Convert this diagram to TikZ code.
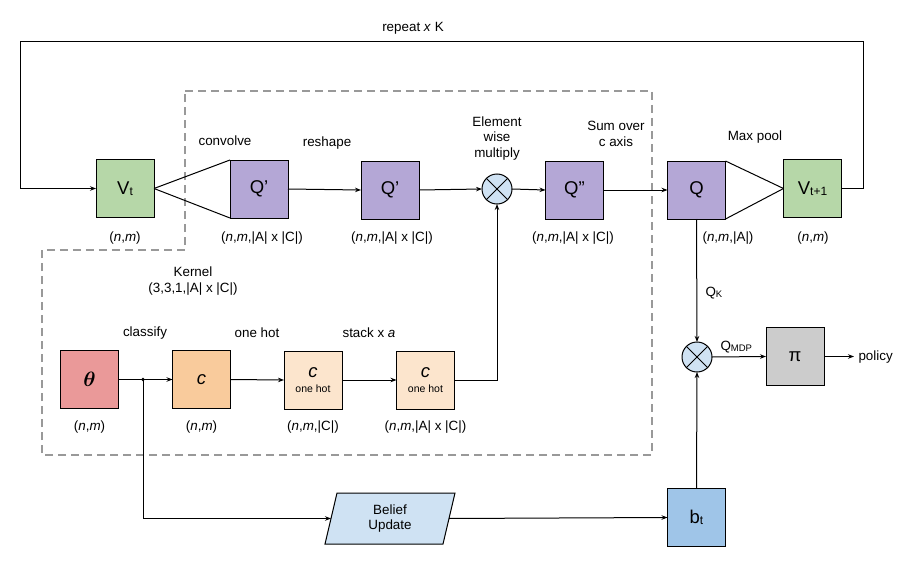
\documentclass[tikz,border=0pt]{standalone}
\usepackage{fontspec}
\setmainfont{Liberation Sans}
\usepackage{bm}
\usetikzlibrary{arrows.meta}
\definecolor{vgreen}{HTML}{B6D7A8}
\definecolor{qpurple}{HTML}{B4A7D6}
\definecolor{tpink}{HTML}{EA9999}
\definecolor{corange}{HTML}{F9CB9C}
\definecolor{lorange}{HTML}{FCE5CD}
\definecolor{lblue}{HTML}{CFE2F3}
\definecolor{bblue}{HTML}{9FC5E8}
\definecolor{pgray}{HTML}{CCCCCC}
\definecolor{dgray}{HTML}{999999}
\newcommand\subx[1]{\raisebox{-1.5pt}{\fontsize{12}{12}\selectfont #1}}
\newcommand\subs[1]{\raisebox{-1pt}{\fontsize{9.5}{9.5}\selectfont #1}}
\begin{document}
\begin{tikzpicture}[x=1pt,y=-1pt,line width=1pt,
  box/.style={draw, minimum width=58pt, minimum height=58pt, inner sep=0pt, outer sep=0pt, font=\fontsize{18.5}{20}\selectfont},
  lbl/.style={font=\fontsize{13.4}{15.6}\selectfont, align=center, inner sep=0pt},
  arr/.style={-{Stealth[length=6pt,width=4.5pt]}},
  mult/.style={draw, circle, minimum size=30pt, inner sep=0pt, outer sep=0pt, fill=lblue}]
\path[use as bounding box] (0,0) rectangle (916,578);

% dashed region
\draw[dgray, line width=1.8pt, dash pattern=on 8pt off 5pt]
  (185,91) -- (652,91) -- (652,455) -- (42,455) -- (42,250) -- (185,250) -- cycle;

% top row
\node[box, fill=vgreen] (vt) at (125,188.5) {V\subx{t}};
\node[box, fill=qpurple] (q1) at (259,189) {Q’};
\node[box, fill=qpurple] (q2) at (390,190) {Q’};
\node[mult] (m1) at (497,189) {};
\node[box, fill=qpurple] (q3) at (574.5,190) {Q”};
\node[box, fill=qpurple] (q) at (696.5,190) {Q};
\node[box, fill=vgreen] (vt1) at (812.5,188.5) {V\subx{t+1}};

% bottom row
\node[box, fill=tpink, font=\fontsize{20}{22}\selectfont] (th) at (89.5,379.5) {$\bm{\theta}$};
\node[box, fill=corange] (c) at (201.5,379.5) {\textit{c}};
\node[box, fill=lorange, align=center] (co1) at (313,380) {\textit{c}\\[-5pt]{\fontsize{10.5}{12}\selectfont one hot}};
\node[box, fill=lorange, align=center] (co2) at (425.5,380) {\textit{c}\\[-5pt]{\fontsize{10.5}{12}\selectfont one hot}};

\node[mult] (m2) at (697,357) {};
\node[box, fill=pgray] (pi) at (795,356.5) {π};
\node[box, fill=bblue] (bt) at (696.5,517.5) {b\subx{t}};
\node[minimum width=118pt, minimum height=51pt, inner sep=0pt, outer sep=0pt] (bu) at (390,518.5) {};
\fill[lblue] (325,544) -- (443,544) -- (455,493) -- (337,493) -- cycle;
\draw (325,544) -- (443,544) -- (455,493) -- (337,493) -- cycle;
\node[lbl] at (bu) {Belief\\Update};

% X marks
\draw (m1.north west) -- (m1.south east) (m1.north east) -- (m1.south west);
\draw (m2.north west) -- (m2.south east) (m2.north east) -- (m2.south west);

% connectors
\coordinate (fbR) at (863,42);
\coordinate (fbL) at (20,42);
\draw[arr] (vt1.east) -| (fbR) -- (fbL) |- (vt.west);
\draw (vt.east) -- (q1.north west);
\draw (vt.east) -- (q1.south west);
\draw[arr] (q1.east) -- (q2.west);
\draw[arr] (q2.east) -- (m1.west);
\draw[arr] (m1.east) -- (q3.west);
\draw[arr] (q3.east) -- (q.west);
\draw (q.north east) -- (vt1.west);
\draw (q.south east) -- (vt1.west);
\draw[arr] (q.south) -- (m2.north);
\draw[arr] (bt.north) -- (m2.south);
\draw[arr] (m2.east) -- (pi.west);
\coordinate (pol) at (854,356.5);
\draw[arr] (pi.east) -- (pol);
\coordinate (jn) at (143,379.5);
\draw[arr] (th.east) -- (c.west);
\fill (jn) circle (1.8pt);
\draw[arr] (jn) |- (bu.west);
\draw[arr] (bu.east) -- (bt.west);
\draw[arr] (c.east) -- (co1.west);
\draw[arr] (co1.east) -- (co2.west);
\draw[arr] (co2.east) -| (m1.south);

% labels
\node[lbl] at (413,28) {repeat \textit{x} K};
\node[lbl] at (225,141) {convolve};
\node[lbl] at (327,143) {reshape};
\node[lbl] at (497,138.5) {Element\\wise\\multiply};
\node[lbl] at (616,134) {Sum over\\c axis};
\node[lbl] at (755,137) {Max pool};
\node[lbl] at (125,238) {(\textit{n},\textit{m})};
\node[lbl] at (262,238) {(\textit{n},\textit{m},|A| x |C|)};
\node[lbl] at (392,238) {(\textit{n},\textit{m},|A| x |C|)};
\node[lbl] at (573,238) {(\textit{n},\textit{m},|A| x |C|)};
\node[lbl] at (728,238) {(\textit{n},\textit{m},|A|)};
\node[lbl] at (813,238) {(\textit{n},\textit{m})};
\node[lbl] at (193,281) {Kernel\\(3,3,1,|A| x |C|)};
\node[lbl] at (145,333) {classify};
\node[lbl] at (257,333) {one hot};
\node[lbl] at (369,333) {stack x \textit{a}};
\node[lbl] at (89.5,427) {(\textit{n},\textit{m})};
\node[lbl] at (201.5,427) {(\textit{n},\textit{m})};
\node[lbl] at (313,427) {(\textit{n},\textit{m},|C|)};
\node[lbl] at (425.5,427) {(\textit{n},\textit{m},|A| x |C|)};
\node[lbl, anchor=west] at (705,293) {Q\subs{K}};
\node[lbl, anchor=west] at (720,347) {Q\subs{MDP}};
\node[lbl, anchor=west] at (858,357) {policy};
\end{tikzpicture}
\end{document}
